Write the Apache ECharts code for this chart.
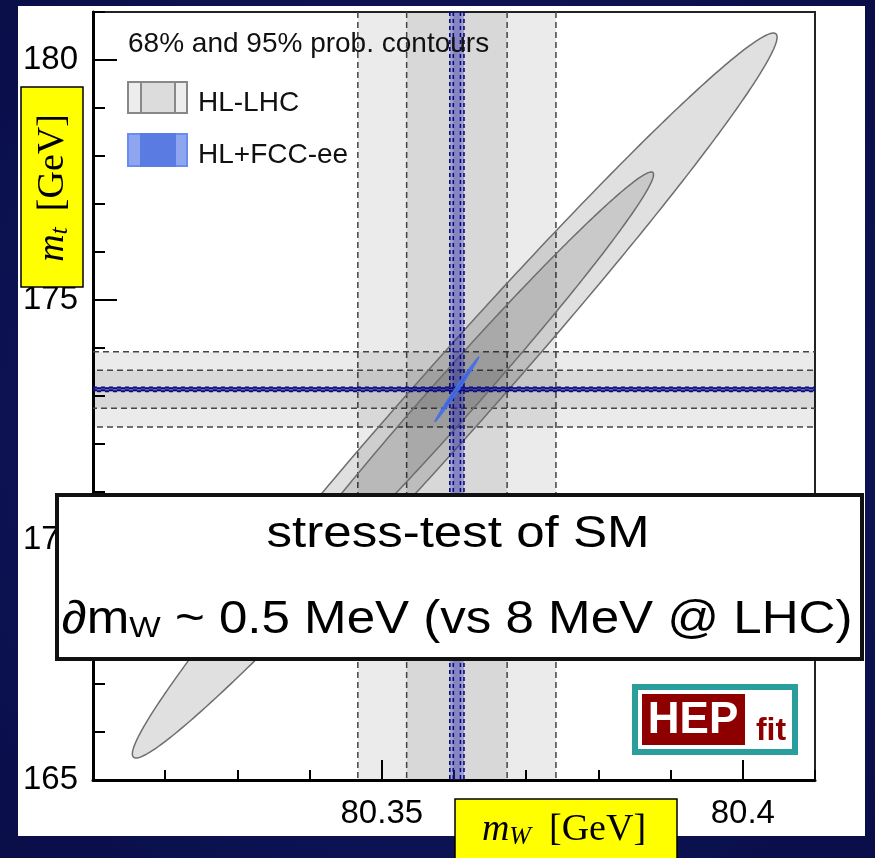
<!DOCTYPE html>
<html>
<head>
<meta charset="utf-8">
<title>mW vs mt</title>
<script src="https://cdn.jsdelivr.net/npm/echarts@6/dist/echarts.min.js"></script>
<style>
html, body { margin: 0; padding: 0; background: #0b1050; }
#chart { width: 875px; height: 858px; }
</style>
</head>
<body>
<div id="chart"></div>
<script>
// axis ranges and ticks
var xRange = [80.31, 80.41];
var yRange = [165, 181];
var xMajorTicks = [80.35, 80.4];
var yMajorTicks = [165, 170, 175, 180];

// direct measurements (bands): [HL-LHC, HL+FCC-ee]
var mwCenter = [80.3604, 80.3604];
var mwSigma = [0.0070, 0.0005];
var mtCenter = [173.14, 173.14];
var mtSigma = [0.40, 0.02];

// indirect fit contours: [HL-LHC, HL+FCC-ee]
var fitMw = [80.3601, 80.3604];
var fitMt = [173.01, 173.14];
var fitSigmaMw = [0.01824, 0.00125];
var fitSigmaMt = [3.085, 0.277];
var fitRho = [0.9885, 0.9935];

// 95% then 68%
var probLevels = [0.95, 0.68];
var bandZ = [1.96, 0.994];

var myChart = echarts.init(document.getElementById('chart'));

function bandItem(dir, fills, lineCol, dash, lw) {
    return function (params, api) {
        var c = api.value(0), s = api.value(1);
        var cs = params.coordSys;
        var rects = [], lines = [];
        bandZ.forEach(function (z, i) {
            if (dir === 'v') {
                var x0 = api.coord([c - z * s, yRange[0]])[0];
                var x1 = api.coord([c + z * s, yRange[0]])[0];
                rects.push({type: 'rect', shape: {x: x0, y: cs.y, width: x1 - x0, height: cs.height}, style: {fill: fills[i]}});
                [x0, x1].forEach(function (x) {
                    lines.push({type: 'line', shape: {x1: x, y1: cs.y, x2: x, y2: cs.y + cs.height},
                        style: {stroke: lineCol, lineWidth: lw, lineDash: dash}});
                });
            } else {
                var y0 = api.coord([xRange[0], c + z * s])[1];
                var y1 = api.coord([xRange[0], c - z * s])[1];
                rects.push({type: 'rect', shape: {x: cs.x, y: y0, width: cs.width, height: y1 - y0}, style: {fill: fills[i]}});
                [y0, y1].forEach(function (y, k) {
                    lines.push({type: 'line', shape: {x1: cs.x, y1: y, x2: cs.x + cs.width, y2: y},
                        style: {stroke: lineCol, lineWidth: lw, lineDash: dash, lineDashOffset: (i + k) * dash[0]}});
                });
            }
        });
        return {type: 'group', children: rects.concat(lines)};
    };
}

function ellipseItem(fills, strokeCol, lw) {
    return function (params, api) {
        var cx = api.value(0), cy = api.value(1), sx = api.value(2), sy = api.value(3), rho = api.value(4);
        var children = probLevels.map(function (p, i) {
            var k = Math.sqrt(-2 * Math.log(1 - p));
            var pts = [];
            for (var j = 0; j < 360; j++) {
                var t = 2 * Math.PI * j / 360;
                var u = k * Math.cos(t);
                var v = k * (rho * Math.cos(t) + Math.sqrt(1 - rho * rho) * Math.sin(t));
                pts.push(api.coord([cx + sx * u, cy + sy * v]));
            }
            return {type: 'polygon', shape: {points: pts},
                style: {fill: fills[i], stroke: strokeCol, lineWidth: lw}};
        });
        return {type: 'group', children: children};
    };
}

var tickFont = {fontSize: 33, fontFamily: 'Liberation Sans', color: '#000'};
var blackLine = {color: '#000', width: 2};

option = {
    backgroundColor: {
        type: 'radial', x: 0.5, y: 0.5, r: 0.8,
        colorStops: [{offset: 0, color: '#141b6a'}, {offset: 1, color: '#080c44'}]
    },
    animation: false,
    grid: [
        {left: 93, top: 12, right: 60, bottom: 78, show: true, borderColor: '#222', borderWidth: 2},
        {left: 93, top: 12, right: 60, bottom: 78, show: false}
    ],
    xAxis: [
        {
            type: 'value', gridIndex: 0, min: xRange[0], max: xRange[1], interval: 0.01,
            axisLine: {show: true, onZero: false, lineStyle: {color: '#000', width: 3}},
            axisTick: {inside: true, length: 10, lineStyle: blackLine},
            axisLabel: {show: false}, splitLine: {show: false}
        },
        {
            type: 'value', gridIndex: 1, min: xRange[0], max: xRange[1],
            axisLine: {show: false},
            axisTick: {inside: true, length: 20, customValues: xMajorTicks, lineStyle: blackLine},
            axisLabel: Object.assign({customValues: xMajorTicks, margin: 17}, tickFont),
            splitLine: {show: false}
        }
    ],
    yAxis: [
        {
            type: 'value', gridIndex: 0, min: yRange[0], max: yRange[1], interval: 1,
            axisLine: {show: true, onZero: false, lineStyle: {color: '#000', width: 3}},
            axisTick: {inside: true, length: 12, lineStyle: blackLine},
            axisLabel: {show: false}, splitLine: {show: false}
        },
        {
            type: 'value', gridIndex: 1, min: yRange[0], max: yRange[1],
            axisLine: {show: false},
            axisTick: {inside: true, length: 24, customValues: yMajorTicks, lineStyle: blackLine},
            axisLabel: Object.assign({customValues: yMajorTicks, margin: 15}, tickFont),
            splitLine: {show: false}
        }
    ],
    series: [
        {
            name: 'mW HL-LHC', type: 'custom', xAxisIndex: 0, yAxisIndex: 0,
            renderItem: bandItem('v', ['rgba(0,0,0,0.08)', 'rgba(0,0,0,0.08)'], '#444', [6, 4], 1.5),
            data: [[mwCenter[0], mwSigma[0]]]
        },
        {
            name: 'mt HL-LHC', type: 'custom', xAxisIndex: 0, yAxisIndex: 0,
            renderItem: bandItem('h', ['rgba(0,0,0,0.08)', 'rgba(0,0,0,0.08)'], '#444', [6, 4], 1.5),
            data: [[mtCenter[0], mtSigma[0]]]
        },
        {
            name: 'fit HL-LHC', type: 'custom', xAxisIndex: 0, yAxisIndex: 0,
            renderItem: ellipseItem(['rgba(0,0,0,0.12)', 'rgba(0,0,0,0.10)'], '#6e6e6e', 1.5),
            data: [[fitMw[0], fitMt[0], fitSigmaMw[0], fitSigmaMt[0], fitRho[0]]]
        },
        {
            name: 'mW FCC-ee', type: 'custom', xAxisIndex: 0, yAxisIndex: 0,
            renderItem: bandItem('v', ['rgba(40,40,170,0.32)', 'rgba(40,40,170,0.22)'], '#0a0a80', [4, 3], 1.6),
            data: [[mwCenter[1], mwSigma[1]]]
        },
        {
            name: 'mt FCC-ee', type: 'custom', xAxisIndex: 0, yAxisIndex: 0,
            renderItem: bandItem('h', ['rgba(40,40,170,0.32)', 'rgba(40,40,170,0.22)'], '#0a0a80', [4, 4], 2),
            data: [[mtCenter[1], mtSigma[1]]]
        },
        {
            name: 'fit FCC-ee', type: 'custom', xAxisIndex: 0, yAxisIndex: 0,
            renderItem: ellipseItem(['#4a70e6', '#3d63dc'], '#4a70e6', 1),
            data: [[fitMw[1], fitMt[1], fitSigmaMw[1], fitSigmaMt[1], fitRho[1]]]
        }
    ],
    graphic: [
        // white slide panel behind the plot
        {type: 'rect', z: -10, shape: {x: 18, y: 6, width: 847, height: 830}, style: {fill: '#fff'}},
        // legend
        {type: 'text', z: 50, style: {text: '68% and 95% prob. contours', x: 128, y: 44, verticalAlign: 'middle',
            font: '28px "Liberation Sans"', fill: '#111'}},
        {type: 'rect', z: 50, shape: {x: 128, y: 82, width: 59, height: 31}, style: {fill: '#ededed', stroke: '#888', lineWidth: 2}},
        {type: 'rect', z: 50, shape: {x: 141, y: 82, width: 34, height: 31}, style: {fill: '#dcdcdc', stroke: '#888', lineWidth: 2}},
        {type: 'text', z: 50, style: {text: 'HL-LHC', x: 198, y: 103, verticalAlign: 'middle',
            font: '28px "Liberation Sans"', fill: '#111'}},
        {type: 'rect', z: 50, shape: {x: 128, y: 134, width: 59, height: 32}, style: {fill: '#8ea5ef', stroke: '#6a8cf0', lineWidth: 2}},
        {type: 'rect', z: 50, shape: {x: 141, y: 134, width: 34, height: 32}, style: {fill: '#5a7be2', stroke: '#5a7be2', lineWidth: 2}},
        {type: 'text', z: 50, style: {text: 'HL+FCC-ee', x: 198, y: 155, verticalAlign: 'middle',
            font: '28px "Liberation Sans"', fill: '#111'}},
        // overlay message box
        {type: 'rect', z: 100, shape: {x: 57, y: 495, width: 805, height: 164}, style: {fill: '#fff', stroke: '#111', lineWidth: 4}},
        {type: 'text', z: 101, x: 458, y: 535, scaleX: 1.16, style: {text: 'stress-test of SM', x: 0, y: 0,
            align: 'center', verticalAlign: 'middle', font: '44px "Liberation Sans"', fill: '#000'}},
        {type: 'text', z: 101, x: 457, y: 620, scaleX: 1.11, style: {
            text: '{a|\u2202m}{s|W}{a| ~ 0.5 MeV (vs 8 MeV @ LHC)}', x: 0, y: 0, align: 'center', verticalAlign: 'middle',
            rich: {
                a: {fontSize: 46, fontFamily: 'Liberation Sans', fill: '#000', lineHeight: 48},
                s: {fontSize: 30, fontFamily: 'Liberation Sans', fill: '#000', lineHeight: 26, verticalAlign: 'bottom'}
            }}},
        // HEPfit logo
        {type: 'rect', z: 50, shape: {x: 635, y: 687, width: 160, height: 65}, style: {fill: '#fff', stroke: '#2a9e9c', lineWidth: 6}},
        {type: 'rect', z: 51, shape: {x: 642, y: 694, width: 103, height: 51}, style: {fill: '#8e0000'}},
        {type: 'text', z: 52, style: {text: 'HEP', x: 693, y: 721, align: 'center', verticalAlign: 'middle',
            font: 'bold 44px "Liberation Sans"', fill: '#fff'}},
        {type: 'text', z: 52, style: {text: 'fit', x: 771, y: 731, align: 'center', verticalAlign: 'middle',
            font: 'bold 32px "Liberation Sans"', fill: '#8e0000'}},
        // yellow axis title boxes
        {type: 'rect', z: 100, shape: {x: 21, y: 87, width: 62, height: 200}, style: {fill: '#ffff00', stroke: '#000', lineWidth: 1.5}},
        {type: 'text', z: 101, x: 53, y: 188, rotation: Math.PI / 2, style: {
            text: '{m|m}{s|t}{g|[GeV]}', x: 0, y: 0, align: 'center', verticalAlign: 'middle',
            rich: {
                m: {fontSize: 38, fontStyle: 'italic', fontFamily: 'Liberation Serif', fill: '#000', lineHeight: 40},
                s: {fontSize: 26, fontStyle: 'italic', fontFamily: 'Liberation Serif', fill: '#000', lineHeight: 26, verticalAlign: 'bottom', padding: [0, 16, 0, 0]},
                g: {fontSize: 38, fontFamily: 'Liberation Serif', fill: '#000', lineHeight: 40}
            }}},
        {type: 'rect', z: 100, shape: {x: 455, y: 799, width: 222, height: 70}, style: {fill: '#ffff00', stroke: '#000', lineWidth: 1.5}},
        {type: 'text', z: 101, x: 564, y: 830, style: {
            text: '{m|m}{s|W}{g|[GeV]}', x: 0, y: 0, align: 'center', verticalAlign: 'middle',
            rich: {
                m: {fontSize: 38, fontStyle: 'italic', fontFamily: 'Liberation Serif', fill: '#000', lineHeight: 40},
                s: {fontSize: 26, fontStyle: 'italic', fontFamily: 'Liberation Serif', fill: '#000', lineHeight: 26, verticalAlign: 'bottom', padding: [0, 18, 0, 0]},
                g: {fontSize: 38, fontFamily: 'Liberation Serif', fill: '#000', lineHeight: 40}
            }}}
    ]
};

myChart.setOption(option);
window.addEventListener('resize', function () {
    if (myChart != null && myChart != undefined) {
        myChart.resize();
    }
});
</script>
</body>
</html>
